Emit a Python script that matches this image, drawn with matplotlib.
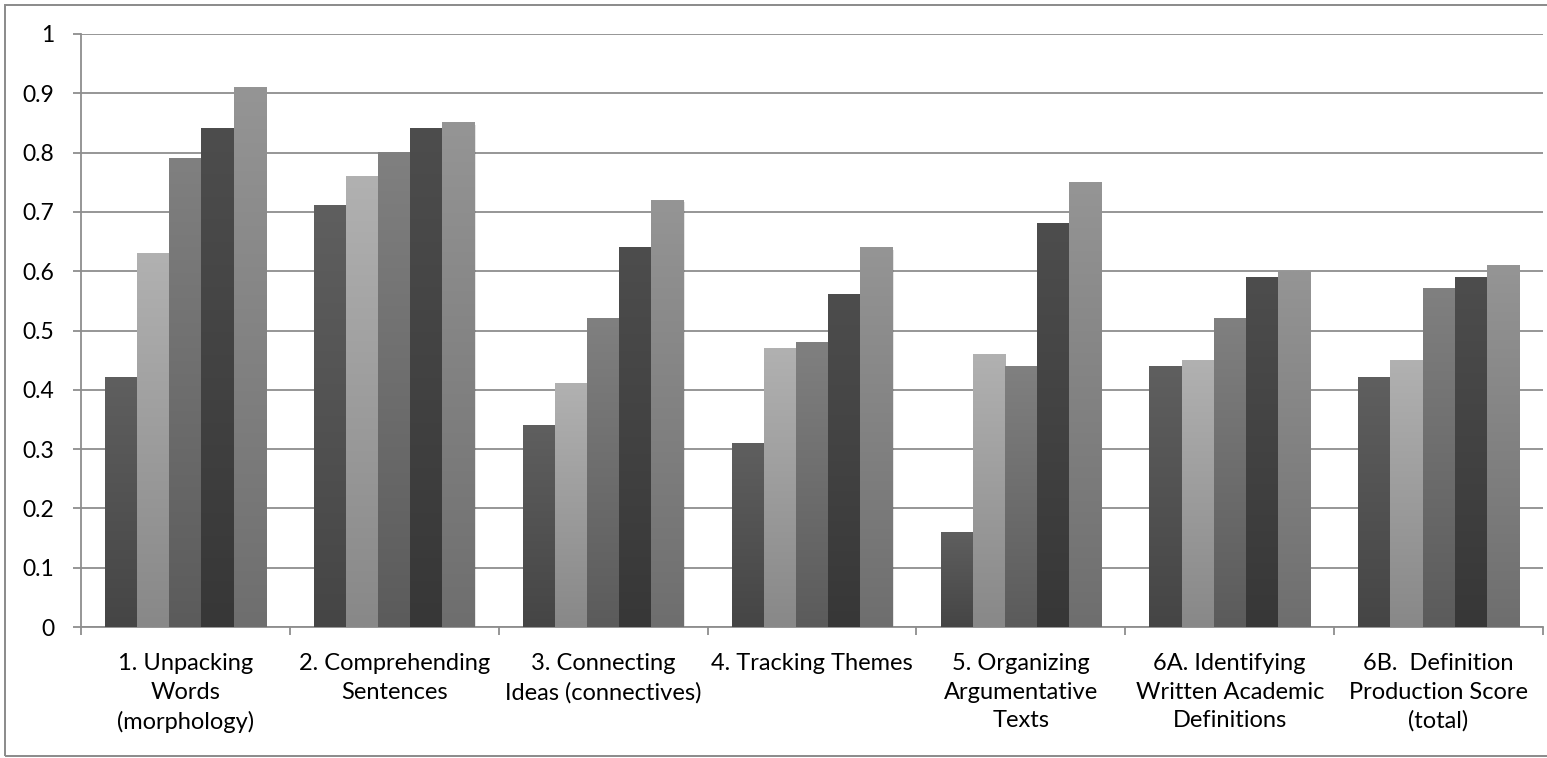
"""
Recreation of a grouped gray bar chart (Excel 2007 style, gradient bars).
"""

import numpy as np
import matplotlib
matplotlib.use("Agg")
import matplotlib.pyplot as plt
from matplotlib.colors import LinearSegmentedColormap
from matplotlib.patches import Rectangle

categories = [
    "1. Unpacking\nWords\n(morphology)",
    "2. Comprehending\nSentences",
    "3. Connecting\nIdeas (connectives)",
    "4. Tracking Themes",
    "5. Organizing\nArgumentative\nTexts",
    "6A. Identifying\nWritten Academic\nDefinitions",
    "6B.  Definition\nProduction Score\n(total)",
]

series_1 = [0.42, 0.71, 0.34, 0.31, 0.16, 0.44, 0.42]
series_2 = [0.63, 0.76, 0.41, 0.47, 0.46, 0.45, 0.45]
series_3 = [0.79, 0.80, 0.52, 0.48, 0.44, 0.52, 0.57]
series_4 = [0.84, 0.84, 0.64, 0.56, 0.68, 0.59, 0.59]
series_5 = [0.91, 0.85, 0.72, 0.64, 0.75, 0.60, 0.61]

y_ticks = [0, 0.1, 0.2, 0.3, 0.4, 0.5, 0.6, 0.7, 0.8, 0.9, 1]
y_tick_labels = ["0", "0.1", "0.2", "0.3", "0.4", "0.5", "0.6", "0.7", "0.8", "0.9", "1"]

# (top colour, bottom colour) for each series gradient
gradients = [
    ("#5f5f5f", "#454545"),
    ("#b1b1b1", "#888888"),
    ("#808080", "#5b5b5b"),
    ("#4d4d4d", "#373737"),
    ("#959595", "#6e6e6e"),
]

plt.rcParams["font.family"] = ["Lato", "DejaVu Sans"]

fig = plt.figure(figsize=(15.47, 7.58), dpi=100)
fig.patches.append(Rectangle((5 / 1547, 2 / 758), 1.2, 751 / 758, transform=fig.transFigure,
                             fill=False, edgecolor="#8a8a8a", linewidth=1.4))
ax = fig.add_axes([81 / 1547, 1 - 627 / 758, 1462 / 1547, 593 / 758])

all_series = [series_1, series_2, series_3, series_4, series_5]
n_series = len(all_series)
bar_w = 1 / (n_series + 1.5)
x = np.arange(len(categories))

grad = np.linspace(0, 1, 256).reshape(-1, 1)
for i, (vals, (top, bottom)) in enumerate(zip(all_series, gradients)):
    cmap = LinearSegmentedColormap.from_list(f"s{i}", [bottom, top])
    offsets = x - n_series * bar_w / 2 + i * bar_w
    for x0, h in zip(offsets, vals):
        # soft shadow
        ax.add_patch(Rectangle((x0 + 0.006, -0.004), bar_w, h, facecolor="#000000",
                               alpha=0.10, linewidth=0, zorder=2))
        ax.imshow(grad, cmap=cmap, origin="lower", aspect="auto",
                  extent=(x0, x0 + bar_w, 0, h), interpolation="bilinear", zorder=3)

ax.set_xlim(-0.5, len(categories) - 0.5)
ax.set_ylim(0, 1)

ax.set_yticks(y_ticks)
ax.set_yticklabels(y_tick_labels)
ax.yaxis.grid(True, color="#8e8e8e", linewidth=1.3, zorder=1)
ax.set_axisbelow(True)

ax.set_xticks(x)
ax.set_xticklabels(categories, linespacing=1.43)
ax.set_xticks(np.arange(len(categories) + 1) - 0.5, minor=True)
ax.tick_params(axis="x", which="major", length=0, pad=19, labelsize=17)
ax.tick_params(axis="x", which="minor", length=6, width=1.3, color="#8e8e8e", direction="out")
ax.tick_params(axis="y", length=6, width=1.3, color="#8e8e8e", pad=13, labelsize=16.5)

for side in ["top", "right"]:
    ax.spines[side].set_visible(False)
for side in ["left", "bottom"]:
    ax.spines[side].set_color("#8e8e8e")
    ax.spines[side].set_linewidth(1.3)

fig.savefig("out.png", dpi=100)
